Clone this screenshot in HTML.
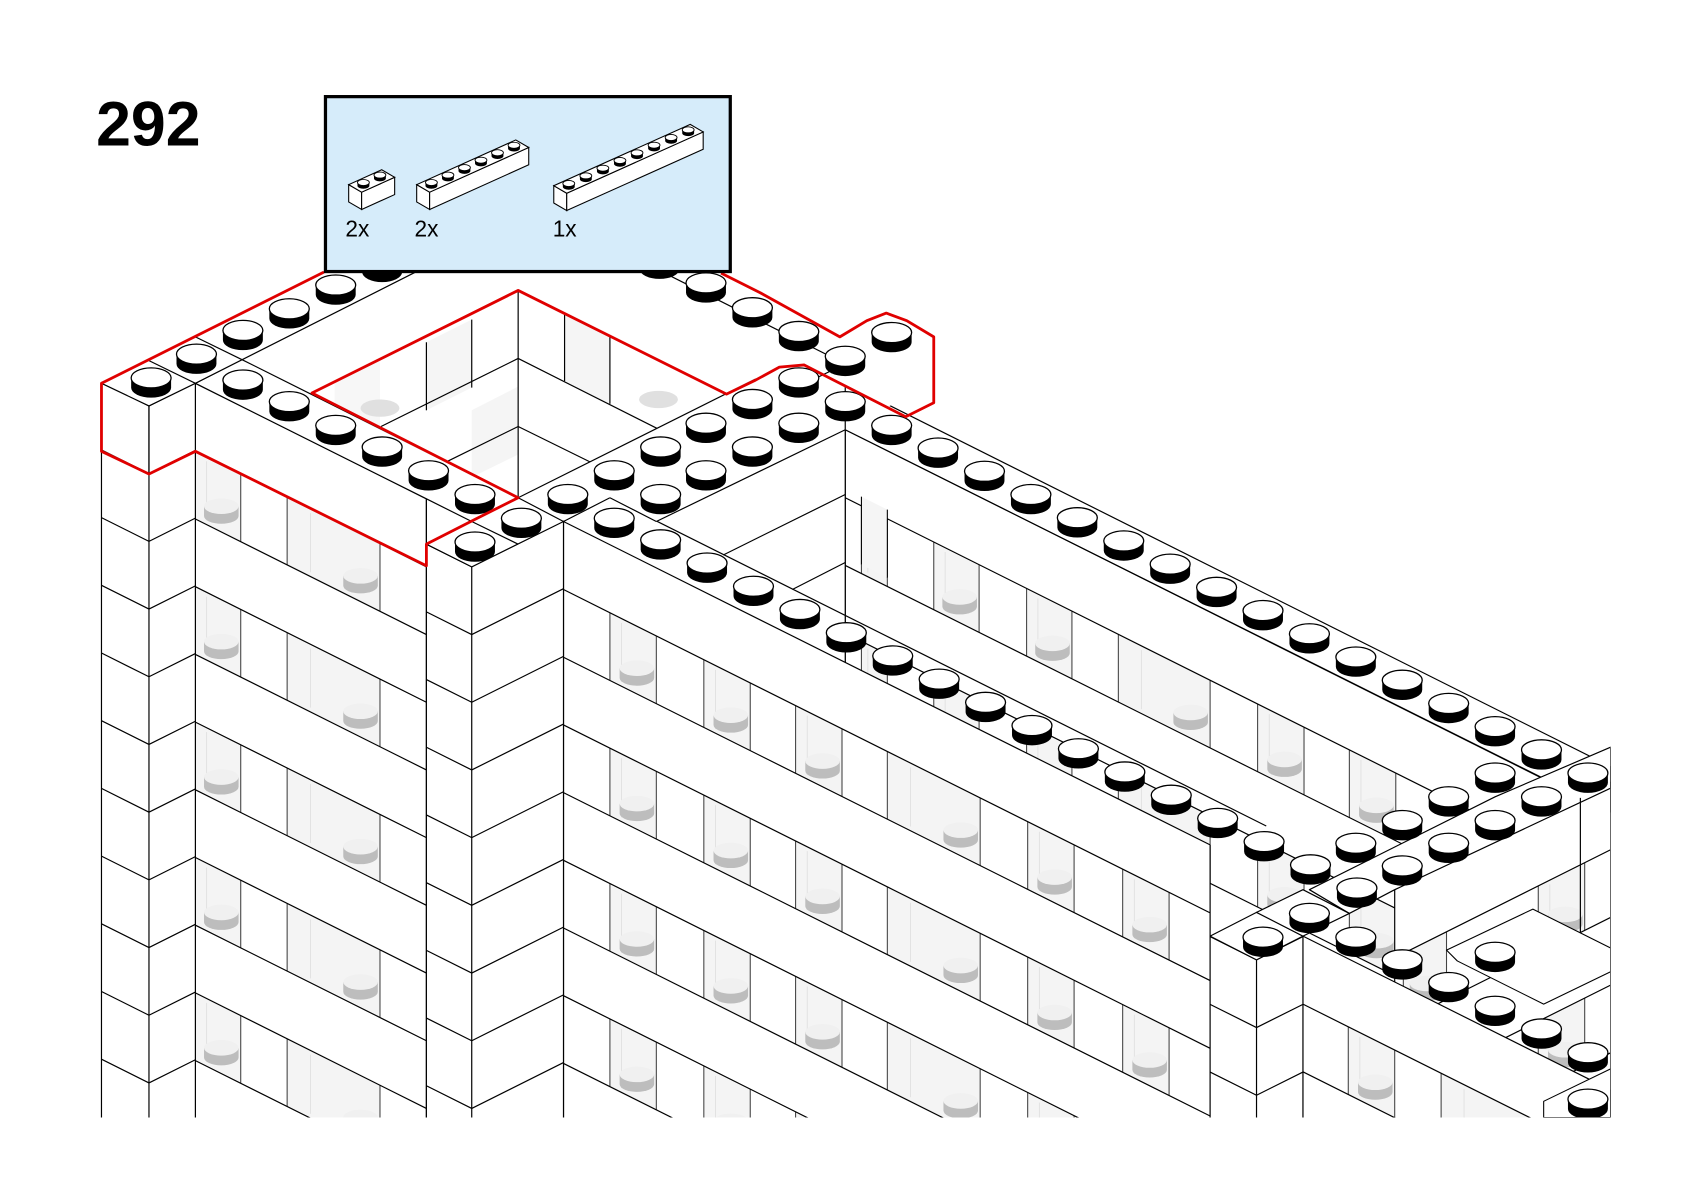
<!DOCTYPE html>
<html><head><meta charset="utf-8"><style>
html,body{margin:0;padding:0;background:#fff;width:1684px;height:1192px;overflow:hidden;}
svg{display:block;}
</style></head><body>
<svg id="s" xmlns="http://www.w3.org/2000/svg" width="1684" height="1192" viewBox="0 0 1560 1104" preserveAspectRatio="none">
<defs><clipPath id="cp"><rect x="0" y="0" width="1492" height="1035"/></clipPath></defs>
<rect width="1560" height="1104" fill="#fff"/>
<g id="g" clip-path="url(#cp)" stroke-linejoin="round"></g>
<g id="top"></g>
<text x="89" y="135" font-family="Liberation Sans, sans-serif" font-weight="bold" font-size="58" fill="#000">292</text>
<g id="box"></g>
</svg>
<script>
const NS='http://www.w3.org/2000/svg';
const G=document.getElementById('g');
function el(t,a,p){const e=document.createElementNS(NS,t);for(const k in a)e.setAttribute(k,a[k]);(p||G).appendChild(e);return e;}
function P(pts){return pts.map(p=>p[0].toFixed(1)+','+p[1].toFixed(1)).join(' ');}
function poly(pts,fill,stroke,w,p){return el('polygon',{points:P(pts),fill:fill||'#fff',stroke:stroke||'#000','stroke-width':w||1.1},p);}
function line(x1,y1,x2,y2,w,c,p){return el('line',{x1,y1,x2,y2,stroke:c||'#000','stroke-width':w||1.1},p);}
const B=1045, H=62.7;

function windowPane(x1,x2,ya,s,p){
  const y1=ya, y2=ya+s*(x2-x1);
  poly([[x1,y1],[x2,y2],[x2,y2+H],[x1,y1+H]],'#f4f4f4','none',0,p);
  const xm=x1+(x2-x1)*0.25;
  line(xm,y1+s*(xm-x1)+4,xm,y1+s*(xm-x1)+H-4,0.6,'#d8d8d8',p);
  const cx=x2-Math.min(18,(x2-x1)*0.45), cy=y1+s*(cx-x1)+H*0.62;
  const r=Math.min(16,(x2-x1)*0.4);
  el('path',{d:`M${cx-r},${cy} L${cx-r},${cy+9} A${r},${r*0.45} 0 0 0 ${cx+r},${cy+9} L${cx+r},${cy} Z`,fill:'#bdbdbd'},p);
  el('ellipse',{cx,cy,rx:r,ry:r*0.45,fill:'#f0f0f0'},p);
  line(x1,y1,x1,y1+H,1,'#444',p);line(x2,y2,x2,y2+H,1,'#444',p);
}
function face(x1,x2,yt,s,ls,wr,wins){
  const g=el('g',{});
  poly([[x1,yt],[x2,yt+s*(x2-x1)],[x2,B],[x1,B]],'#fff','none',0,g);
  if(wins){for(let y=wr;y<B;y+=2*H){for(const w of wins){windowPane(w[0],w[1],y+s*(w[0]-x1),s,g);}}}
  for(let y=ls;y<B+200;y+=H){line(x1,y,x2,y+s*(x2-x1),1.1,'#000',g);}
  line(x1,yt,x1,B,1.1,'#000',g);line(x2,yt+s*(x2-x1),x2,B,1.1,'#000',g);
  line(x1,yt,x2,yt+s*(x2-x1),1.1,'#000',g);
  return g;
}
function column(x1,xf,x2,yf){
  const g=el('g',{});
  const yl=yf-(xf-x1)*0.5, yr=yf-(x2-xf)*0.5;
  poly([[x1,yl],[xf,yf],[x2,yr],[x2,B],[x1,B]],'#fff','none',0,g);
  for(let y=yf;y<B+100;y+=H){el('polyline',{points:P([[x1,y-(xf-x1)*0.5],[xf,y],[x2,y-(x2-xf)*0.5]]),fill:'none',stroke:'#000','stroke-width':1.1},g);}
  line(x1,yl,x1,B,1.1,'#000',g);line(xf,yf,xf,B,1.1,'#000',g);line(x2,yr,x2,B,1.1,'#000',g);
  return g;
}

// courtyard 1
poly([[289,364],[480,269],[673,365],[480,461]],'#fff','none');
poly([[395,317],[437,296],[437,359],[395,380]],'#f5f5f5','none');
poly([[523,290],[565,311],[565,374],[523,353]],'#f5f5f5','none');
poly([[437,380],[480,358],[480,421],[437,442]],'#f5f5f5','none');
poly([[310,354],[352,333],[352,396],[310,400]],'#f7f7f7','none');
line(395,317,395,380);line(437,296,437,359);line(523,290,523,353);line(565,311,565,374);
line(480,269,480,461);
line(480,332,353,395);line(480,332,629,407);
line(480,395,415,427);line(480,395,547,428);
el('ellipse',{cx:352,cy:378,rx:18,ry:8,fill:'#e0e0e0'});
el('ellipse',{cx:610,cy:370,rx:18,ry:8,fill:'#e0e0e0'});

// back wing
face(783,1470,398,0.5,461,461,[[798,822],[865,907],[951,993],[1036,1121],[1165,1208],[1250,1293],[1380,1423]]);
poly([[783,355],[1492,710],[1492,752],[783,398]],'#fff','#000',1.1);
// courtyard 2
poly([[608,483],[783,398],[783,620],[565,729]],'#fff','none');
line(783,398,783,640);
line(670,514,783,458);line(734,546,783,521);
el('polygon',{points:P([[798,460],[822,472],[822,535],[798,523]]),fill:'#f5f5f5'});
line(798,460,798,523,1);line(822,472,822,535,1);

// top-right red region tops
poly([[560,226],[740,316],[783,294],[826,274],[865,294],[865,312],[822,334],[865,356],[822,377],[783,357],[740,378],[700,358],[668,300]],'#fff','none');
line(580,235,783,337);
line(740,358,783,337);

// middle wing
face(522,1121,483,0.5,546,546,[[565,608],[652,695],[737,780],[822,908],[952,995],[1040,1083]]);
line(565,461,1173,765);
poly([[480,461],[673,365],[700,352],[783,398],[608,483],[522,483]],'#fff','none');
line(480,461,700,351);line(608,483,783,398);line(522,483,565,461);line(565,461,608,483);

// left wing
face(181,395,355,0.5,418,418,[[181,223],[266,352]]);
poly([[181,355],[224,333],[480,461],[437,483],[395,462]],'#fff','#000',1.1);
// column 1
column(395,437,522,525);
poly([[395,504],[437,525],[522,483],[480,461]],'#fff','#000',1.1);
line(437,483,480,504);
line(395,462,395,504);
// left pillar & wall
column(94,138,181,376);
poly([[94,355],[300,252],[385,252],[181,355],[138,376]],'#fff','#000',1.1);
line(138,334,181,355);line(181,312,224,333);
line(138,376,138,439);

// right lower
face(1292,1492,824,-0.5,887,887,[[1300,1340],[1425,1468]]);
poly([[1213,824],[1385,738],[1492,692],[1492,730],[1292,824],[1250,846]],'#fff','#000',1.1);
line(1464,739,1464,900);
face(1207,1492,867,0.5,930,930,[[1249,1292],[1335,1420]]);
column(1121,1164,1207,889);
poly([[1121,867],[1164,889],[1207,867],[1164,845]],'#fff','#000',1.1);
poly([[1164,845],[1207,867],[1250,846],[1207,824]],'#fff','#000',1.1);
poly([[1340,880],[1420,842],[1492,878],[1492,900],[1430,930],[1350,890]],'#fff','#000',1);
poly([[1430,1020],[1492,990],[1492,1035],[1430,1035]],'#fff','#000',1);

// studs
function stud(cx,cy,p){
  const r=18.5, ry=9.3, h=9;
  el('path',{d:`M${cx-r},${cy} L${cx-r},${cy+h} A${r},${ry} 0 0 0 ${cx+r},${cy+h} L${cx+r},${cy} Z`,fill:'#000'},p);
  el('ellipse',{cx,cy,rx:r,ry,fill:'#fff',stroke:'#000','stroke-width':1.2},p);
}
let S=[];
[[140,350],[182,328],[225,306],[268,286],[311,264],[354,243],
 [225,352],[268,372],[311,394],[354,414],[397,436],[440,458],
 [440,502],[483,480],
 [526,458],[569,436],[612,414],[654,392],[697,370],[740,350],
 [569,480],[612,458],[654,436],[697,414],[740,392],
 [611,240],[654,262],[697,285],[740,307],[783,330],[826,308],[783,372],[826,394],
 [1385,716],[1428,738],[1342,738],[1385,760],[1299,760],[1342,781],[1256,781],[1299,802],[1213,846],[1170,868],
 [1256,868],[1299,889],[1342,910],[1385,932],[1428,953],[1471,975],[1385,882],[1471,1018]
].forEach(p=>S.push(p));
for(let i=0;i<16;i++)S.push([612+43*i,500+21.5*i]);
for(let i=0;i<15;i++)S.push([869+43*i,415+21.5*i]);
S.sort((a,b)=>a[1]-b[1]);
S.forEach(p=>stud(p[0],p[1]));

// red outline
el('polyline',{points:'300,252 94,355 94,418 138,439 181,418 395,524 395,504 440,481 480,461 289,364 480,269 673,365 700,352 722,340 745,338 778,355 839,386 865,373 865,312 840,297 821,290 803,297 778,312 704,271 668,253',fill:'none',stroke:'#e00000','stroke-width':2.6,'stroke-linejoin':'round'});

// parts box
const BX=document.getElementById('box');
el('rect',{x:301.5,y:89.5,width:375,height:162,fill:'#d6ecfa',stroke:'#000','stroke-width':3},BX);
function brick(ax,ay,n,Lx,Ly){
  const Sx=12,Sy=7,h=16;
  const A=[ax,ay],F=[ax+Sx,ay+Sy];
  const up=p=>[p[0],p[1]-h];
  const Fn=[F[0]+n*Lx,F[1]+n*Ly], An=[A[0]+n*Lx,A[1]+n*Ly];
  poly([A,F,up(F),up(A)],'#fff','#000',1,BX);
  poly([F,Fn,up(Fn),up(F)],'#fff','#000',1,BX);
  poly([up(A),up(F),up(Fn),up(An)],'#fff','#000',1,BX);
  for(let k=0;k<n;k++){
    const cx=A[0]+Sx/2+(k+0.5)*Lx, cy=A[1]-h+Sy/2+(k+0.5)*Ly-2;
    el('path',{d:`M${cx-5.5},${cy} L${cx-5.5},${cy+3} A5.5,2.8 0 0 0 ${cx+5.5},${cy+3} L${cx+5.5},${cy} Z`,fill:'#000'},BX);
    el('ellipse',{cx,cy,rx:5.5,ry:2.8,fill:'#fff',stroke:'#000','stroke-width':0.8},BX);
  }
}
brick(323,187,2,15.3,-6.9);
brick(386,187,6,15.3,-6.9);
brick(513,188,8,15.8,-7.1);
[['2x',320],['2x',384],['1x',512]].forEach(t=>{const e=el('text',{x:t[1],y:219,'font-family':'Liberation Sans, sans-serif','font-size':21,fill:'#000'},BX);e.textContent=t[0];});
</script>
</body></html>
